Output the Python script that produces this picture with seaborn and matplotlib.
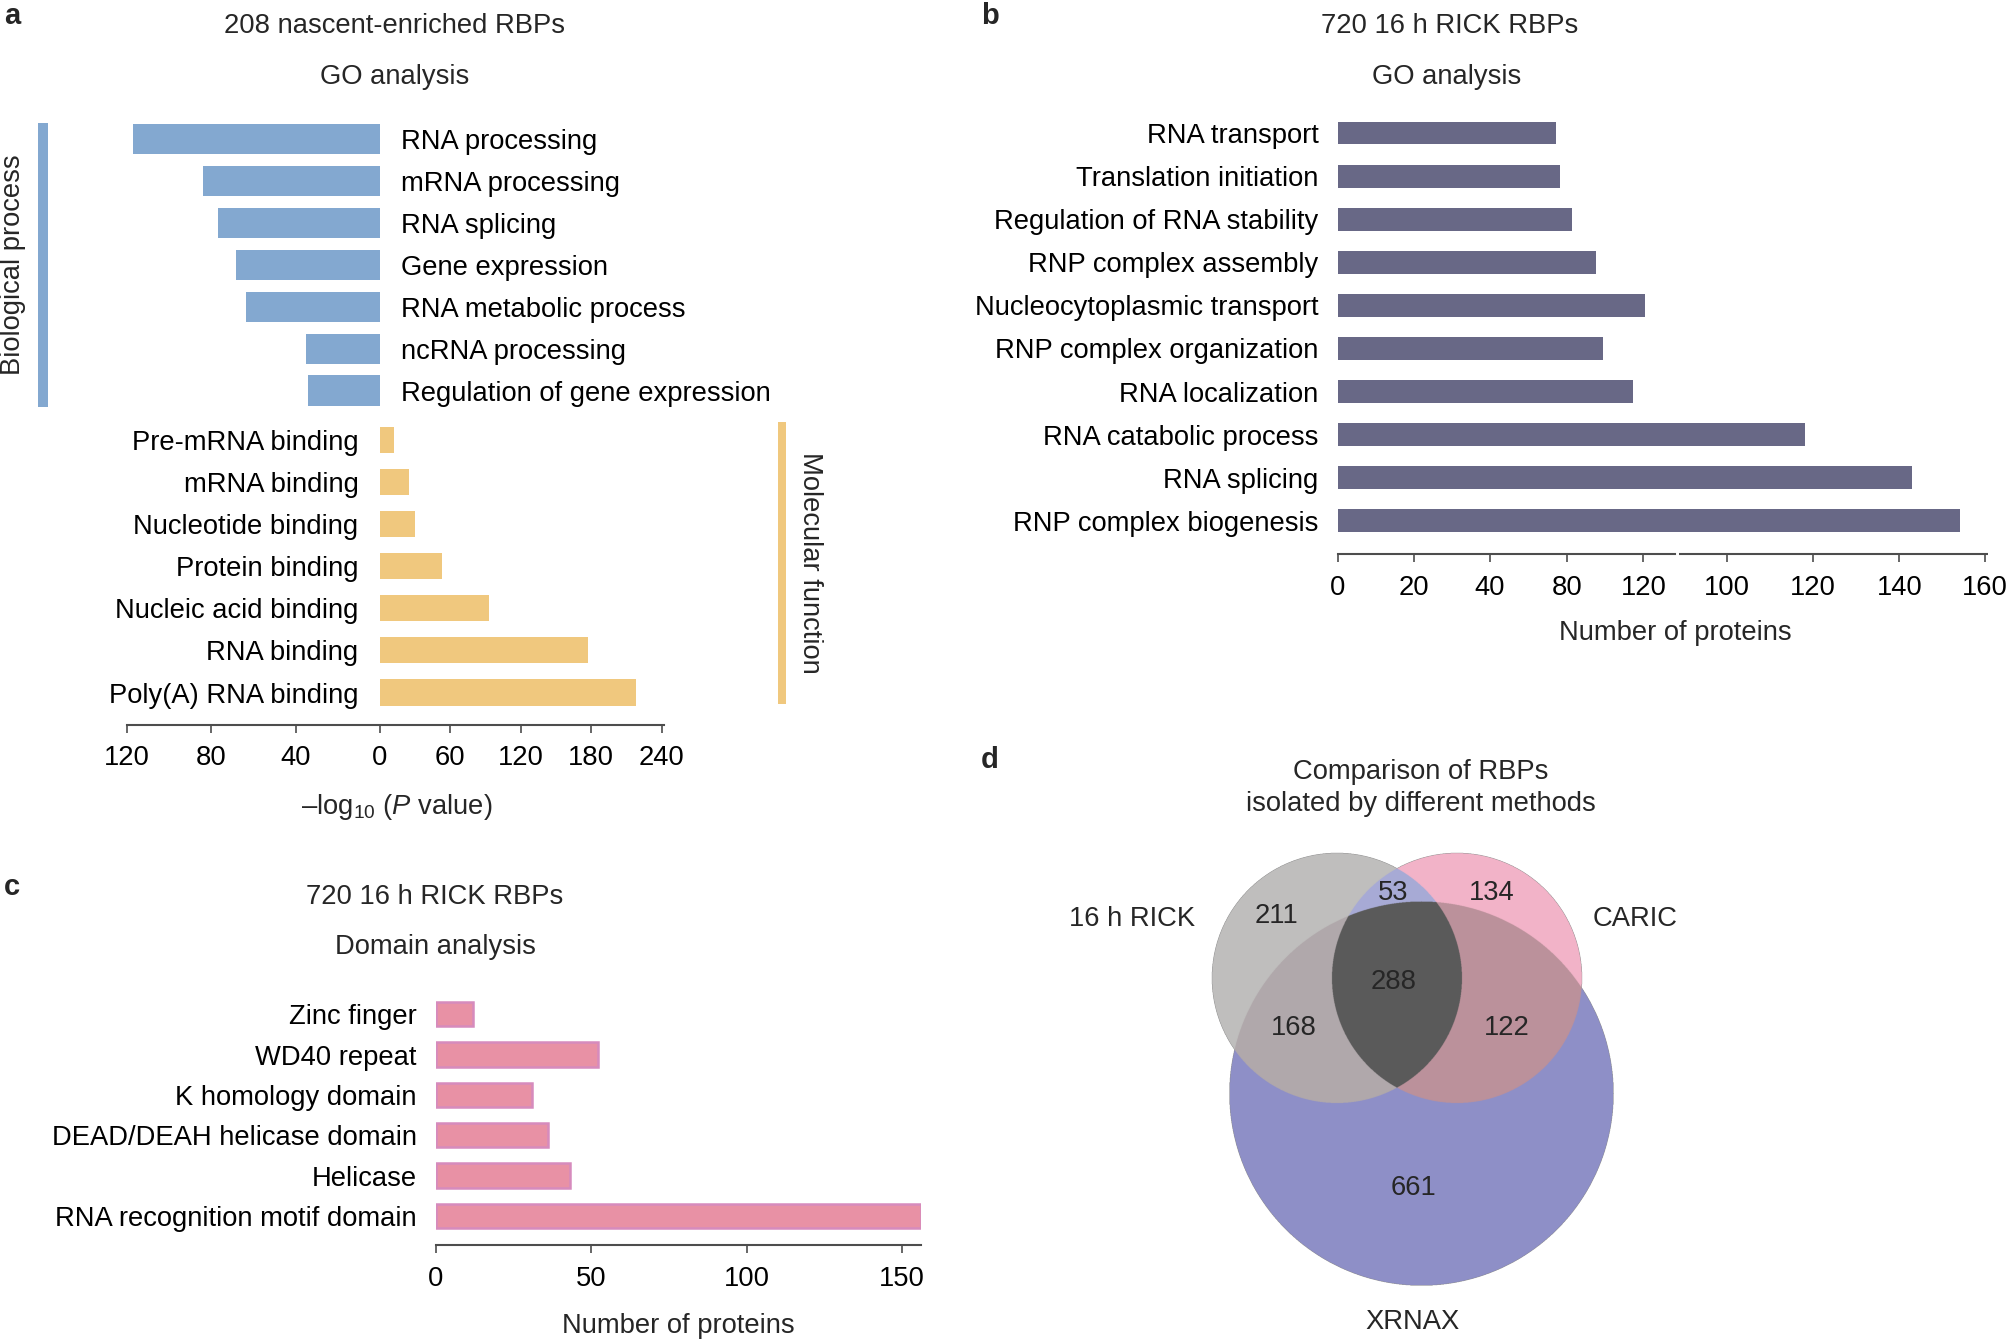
import numpy as np
import pandas as pd
import matplotlib
matplotlib.use('Agg')
import matplotlib.pyplot as plt
from matplotlib.patches import Rectangle
from matplotlib.colors import to_rgba
import seaborn as sns

# ---- panel a: GO analysis of nascent-enriched RBPs (-log10 P) ----
bp_terms = ['RNA processing', 'mRNA processing', 'RNA splicing', 'Gene expression',
            'RNA metabolic process', 'ncRNA processing', 'Regulation of gene expression']
bp_logp = [117, 84, 77, 68.5, 63.5, 35, 34]
mf_terms = ['Pre-mRNA binding', 'mRNA binding', 'Nucleotide binding', 'Protein binding',
            'Nucleic acid binding', 'RNA binding', 'Poly(A) RNA binding']
mf_logp = [12, 25, 30, 53, 93, 177, 218]
bp_ticks = [120, 80, 40, 0]
mf_ticks = [60, 120, 180, 240]

# ---- panel b: GO analysis of 16 h RICK RBPs ----
go_terms = ['RNA transport', 'Translation initiation', 'Regulation of RNA stability',
            'RNP complex assembly', 'Nucleocytoplasmic transport', 'RNP complex organization',
            'RNA localization', 'RNA catabolic process', 'RNA splicing', 'RNP complex biogenesis']
go_counts = [54, 55, 58, 64, 76, 65.5, 73, 115.5, 142, 154]
# the published axis is broken, tick labels are kept as printed
go_tick_values = [0, 18.8, 37.7, 56.7, 75.6, 96.3, 117.5, 138.9, 160]
go_tick_labels = ['0', '20', '40', '80', '120', '100', '120', '140', '160']

# ---- panel c: domain analysis ----
domains = ['Zinc finger', 'WD40 repeat', 'K homology domain', 'DEAD/DEAH helicase domain',
           'Helicase', 'RNA recognition motif domain']
domain_counts = [12, 52, 31, 36, 43, 156]
domain_ticks = [0, 50, 100, 150]

# ---- panel d: venn of methods ----
venn_sets = ['16 h RICK', 'CARIC', 'XRNAX']
venn_regions = ['100', '010', '110', '001', '101', '011', '111']
venn_counts = [211, 134, 53, 661, 168, 122, 288]

W, H = 2007, 1339
FS = 19.7
AX_COL = '#4d4d4d'

sns.set_theme(style='ticks')
plt.rcParams['font.family'] = ['Liberation Sans', 'DejaVu Sans']
plt.rcParams['mathtext.fontset'] = 'custom'
plt.rcParams['mathtext.rm'] = 'Liberation Sans'
plt.rcParams['mathtext.it'] = 'Liberation Sans:italic'

fig = plt.figure(figsize=(W / 100, H / 100), dpi=100)


def px_axes(x0, y0, x1, y1):
    """axes placed by pixel box of the 2007x1339 canvas"""
    ax = fig.add_axes([x0 / W, 1 - y1 / H, (x1 - x0) / W, (y1 - y0) / H])
    ax.set_facecolor('none')
    return ax


def px_text(x, y, s, **kw):
    kw.setdefault('ha', 'center')
    kw.setdefault('va', 'center')
    kw.setdefault('fontsize', FS)
    fig.text(x / W, 1 - y / H, s, **kw)


def px_rect(x0, y0, x1, y1, color):
    fig.add_artist(Rectangle((x0 / W, 1 - y1 / H), (x1 - x0) / W, (y1 - y0) / H,
                             transform=fig.transFigure, color=color, lw=0))


def style_axis(ax, ticks, labels=None):
    sns.despine(ax=ax, left=True)
    ax.spines['bottom'].set_color(AX_COL)
    ax.spines['bottom'].set_linewidth(1.5)
    ax.set_xticks(ticks)
    if labels is not None:
        ax.set_xticklabels(labels)
    ax.tick_params(axis='x', length=6, width=1.2, color=AX_COL, labelsize=FS,
                   pad=9, labelcolor='black')
    ax.tick_params(axis='y', length=0, labelsize=FS, labelcolor='black')
    ax.set_xlabel('')
    ax.set_ylabel('')


# panel a, biological process (bars grow to the left)
bp_df = pd.DataFrame({'term': bp_terms, 'logp': bp_logp})
ax_bp = px_axes(127, 118.5, 380, 724.5)
sns.barplot(data=bp_df, x='logp', y='term', orient='h', color='#83a8d0', saturation=1,
            width=0.72, linewidth=0, errorbar=None, ax=ax_bp)
ax_bp.set_xlim(120, 0)
ax_bp.set_ylim(13.98, -0.5)
style_axis(ax_bp, bp_ticks)
ax_bp.yaxis.tick_right()
ax_bp.tick_params(axis='y', length=0, pad=15)

# panel a, molecular function
mf_df = pd.DataFrame({'term': mf_terms, 'logp': mf_logp})
ax_mf = px_axes(380, 419, 664, 724.5)
sns.barplot(data=mf_df, x='logp', y='term', orient='h', color='#f0c87e', saturation=1,
            width=0.62, linewidth=0, errorbar=None, ax=ax_mf)
ax_mf.set_xlim(0, 242)
ax_mf.set_ylim(6.76, -0.5)
style_axis(ax_mf, mf_ticks)
ax_mf.spines['bottom'].set_bounds(1.5, 242)
ax_mf.tick_params(axis='y', pad=15.5)

px_rect(38, 123, 48, 407, '#83a8d0')
px_rect(778, 422, 786, 704, '#f0c87e')
px_text(13, 265, 'Biological process', rotation=90)
px_text(810, 563, 'Molecular function', rotation=-90)
px_text(395, 26, '208 nascent-enriched RBPs')
px_text(395, 77, 'GO analysis')
px_text(397, 807, r'–$\mathrm{log}_{10}$ ($P$ value)')

# panel b
go_df = pd.DataFrame({'term': go_terms, 'count': go_counts})
ax_go = px_axes(1337.6, 111.5, 1988, 554)
sns.barplot(data=go_df, x='count', y='term', orient='h', color='#686886', saturation=1,
            width=0.53, linewidth=0, errorbar=None, ax=ax_go)
ax_go.set_xlim(0, 160.8)
ax_go.set_ylim(9.77, -0.5)
style_axis(ax_go, go_tick_values, go_tick_labels)
ax_go.spines['bottom'].set_bounds(0, 83.5)
ax_go.plot([84.3, 160.8], [0, 0], transform=ax_go.get_xaxis_transform(), color=AX_COL,
           lw=1.5, clip_on=False, solid_capstyle='butt')
ax_go.tick_params(axis='y', pad=13.7)
ax_go.set_xlabel('Number of proteins', fontsize=FS, labelpad=14, x=0.52)
px_text(1450, 26, '720 16 h RICK RBPs')
px_text(1447, 77, 'GO analysis')

# panel c
dom_df = pd.DataFrame({'domain': domains, 'count': domain_counts})
ax_dom = px_axes(436, 994, 920.7, 1245)
sns.barplot(data=dom_df, x='count', y='domain', orient='h', color='#e891a5', saturation=1,
            width=0.6, edgecolor='#d68bbd', linewidth=1.8, errorbar=None, ax=ax_dom)
ax_dom.set_xlim(0, 156)
ax_dom.set_ylim(5.72, -0.5)
style_axis(ax_dom, domain_ticks)
ax_dom.tick_params(axis='y', pad=13.7)
ax_dom.set_xlabel('Number of proteins', fontsize=FS, labelpad=15)
px_text(435, 897, '720 16 h RICK RBPs')
px_text(435, 947, 'Domain analysis')

# panel d, venn drawn as a region map
ax_v = px_axes(1180, 840, 1660, 1300)
circles = [(1337, 978, 125), (1457, 978, 125), (1421.5, 1093.5, 192)]
region_colors = ['#bfbebd', '#f2b3c8', '#a7aad5', '#8e8fc7', '#b0a8ab', '#bb919b', '#5a5a5a']
step = 1 / 3
xs = np.arange(1180, 1660, step) + step / 2
ys = np.arange(840, 1300, step) + step / 2
gx, gy = np.meshgrid(xs, ys)
inside = [(gx - cx) ** 2 + (gy - cy) ** 2 <= r ** 2 for cx, cy, r in circles]
img = np.zeros(gx.shape + (4,), dtype=np.uint8)
for key, col in zip(venn_regions, region_colors):
    mask = np.ones(gx.shape, dtype=bool)
    for i, flag in enumerate(key):
        mask &= inside[i] if flag == '1' else ~inside[i]
    img[mask] = [int(round(c * 255)) for c in to_rgba(col)]
ax_v.imshow(img, extent=(1180, 1660, 1300, 840), interpolation='antialiased')
ax_v.set_xlim(1180, 1660)
ax_v.set_ylim(1300, 840)
ax_v.axis('off')

count_xy = [(1276, 916), (1492, 893), (1393, 893), (1414, 1188),
            (1294, 1028), (1507, 1028), (1394, 982)]
for (x, y), n in zip(count_xy, venn_counts):
    ax_v.text(x, y, str(n), ha='center', va='center', fontsize=FS)

set_label_xy = [(1132, 919), (1635, 919), (1413, 1322)]
for (x, y), name in zip(set_label_xy, venn_sets):
    px_text(x, y, name)
px_text(1421, 772, 'Comparison of RBPs')
px_text(1421, 804, 'isolated by different methods')

# panel letters
for letter, (x, y) in zip('abcd', [(4, 16), (981, 16), (4, 887), (981, 760)]):
    px_text(x, y, letter, ha='left', fontsize=21, fontweight='bold')

fig.savefig('out.png', dpi=100)
